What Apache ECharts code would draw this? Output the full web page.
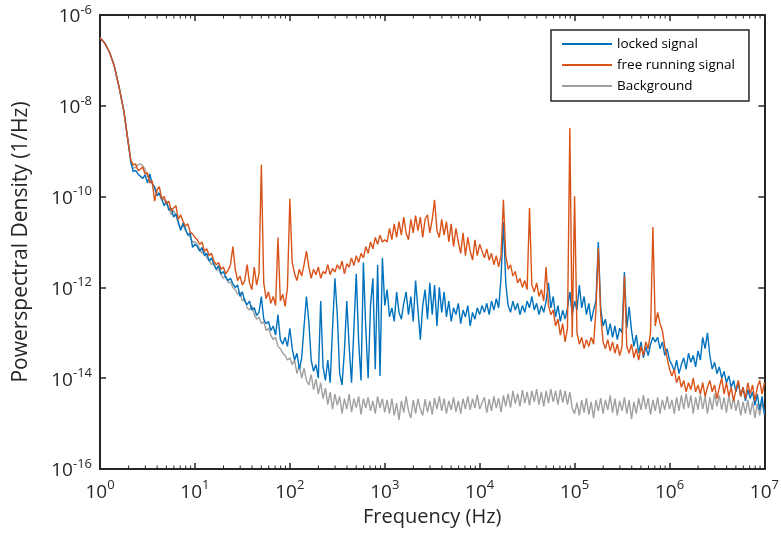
<!DOCTYPE html>
<html>
<head>
<meta charset="utf-8">
<script src="https://cdn.jsdelivr.net/npm/echarts@6/dist/echarts.min.js"></script>
<style>
  html, body { margin: 0; padding: 0; background: #ffffff; }
  #chart { width: 782px; height: 536px; }
</style>
</head>
<body>
<div id="chart"></div>
<script>
// Spectrum sampling grid: log10 of frequency in Hz
const freqExp = [
  0, 0.05, 0.1, 0.15, 0.2, 0.25,
  0.3, 0.325, 0.35, 0.375, 0.4, 0.425, 0.45, 0.475, 0.5, 0.525, 0.55, 0.575, 0.6, 0.625, 0.65, 0.675, 0.7, 0.725, 0.75, 0.775, 0.8, 0.825, 0.85, 0.875, 0.9, 0.925, 0.95, 0.975, 1,
  1.025, 1.05, 1.075, 1.1, 1.125, 1.15, 1.175, 1.2, 1.225, 1.25, 1.275, 1.3, 1.325, 1.35, 1.375, 1.4, 1.425, 1.45, 1.475, 1.5, 1.525, 1.55, 1.575, 1.6, 1.625, 1.65, 1.675, 1.7, 1.725, 1.75, 1.775, 1.8, 1.825, 1.85, 1.875, 1.9, 1.925, 1.95, 1.975, 2,
  2.025, 2.05, 2.075, 2.1, 2.125, 2.15, 2.175, 2.2, 2.225, 2.25, 2.275, 2.3, 2.325, 2.35, 2.375, 2.4, 2.425, 2.45, 2.475, 2.5, 2.525, 2.55, 2.575, 2.6, 2.625, 2.65, 2.675, 2.7, 2.725, 2.75, 2.775, 2.8, 2.825, 2.85, 2.875, 2.9, 2.925, 2.95, 2.975, 3,
  3.025, 3.05, 3.075, 3.1, 3.125, 3.15, 3.175, 3.2, 3.225, 3.25, 3.275, 3.3, 3.325, 3.35, 3.375, 3.4, 3.425, 3.45, 3.475, 3.5, 3.525, 3.55, 3.575, 3.6, 3.625, 3.65, 3.675, 3.7, 3.725, 3.75, 3.775, 3.8, 3.825, 3.85, 3.875, 3.9, 3.925, 3.95, 3.975, 4,
  4.025, 4.05, 4.075, 4.1, 4.125, 4.15, 4.175, 4.2, 4.225, 4.25, 4.275, 4.3, 4.325, 4.35, 4.375, 4.4, 4.425, 4.45, 4.475, 4.5, 4.525, 4.55, 4.575, 4.6, 4.625, 4.65, 4.675, 4.7, 4.725, 4.75, 4.775, 4.8, 4.825, 4.85, 4.875, 4.9, 4.925, 4.95, 4.975, 5,
  5.025, 5.05, 5.075, 5.1, 5.125, 5.15, 5.175, 5.2, 5.225, 5.25, 5.275, 5.3, 5.325, 5.35, 5.375, 5.4, 5.425, 5.45, 5.475, 5.5, 5.525, 5.55, 5.575, 5.6, 5.625, 5.65, 5.675, 5.7, 5.725, 5.75, 5.775, 5.8, 5.825, 5.85, 5.875, 5.9, 5.925, 5.95, 5.975, 6,
  6.025, 6.05, 6.075, 6.1, 6.125, 6.15, 6.175, 6.2, 6.225, 6.25, 6.275, 6.3, 6.325, 6.35, 6.375, 6.4, 6.425, 6.45, 6.475, 6.5, 6.525, 6.55, 6.575, 6.6, 6.625, 6.65, 6.675, 6.7, 6.725, 6.75, 6.775, 6.8, 6.825, 6.85, 6.875, 6.9, 6.925, 6.95, 6.975, 7
];

// log10 of the power spectral density (1/Hz), one value per grid point
const lockedExp = [
  -6.5, -6.62, -6.82, -7.12, -7.58, -8.1,
  -8.85, -9.25, -9.45, -9.42, -9.5, -9.55, -9.6, -9.52, -9.7, -9.5, -9.72, -9.8, -9.98, -9.92, -10.05, -10.2, -10.1, -10.3, -10.25, -10.45, -10.38, -10.55, -10.75, -10.58, -10.7, -10.85, -10.8, -11.12, -11.05,
  -11.1, -11.2, -11.12, -11.3, -11.25, -11.42, -11.35, -11.5, -11.6, -11.52, -11.7, -11.65, -11.78, -11.85, -11.8, -11.92, -12.0, -11.95, -12.2, -12.1, -12.3, -12.38, -12.3, -12.5, -12.45, -12.62, -12.55, -12.2, -12.7, -12.8, -12.75, -12.95, -12.85, -13.05, -12.6, -13.15, -13.25, -13.1, -13.3, -12.9,
  -13.35, -13.6, -13.45, -13.8, -13.55, -12.85, -12.2, -12.75, -13.6, -13.85, -13.7, -14.0, -12.3, -13.75, -14.05, -13.6, -14.1, -12.9, -11.8, -12.6, -13.9, -14.15, -13.4, -12.3, -13.3, -14.1, -12.9, -11.7, -13.2, -14.05, -11.45, -12.9, -14.0, -12.4, -11.8, -13.8, -11.5, -13.95, -11.35, -12.4,
  -12.05, -12.65, -12.45, -12.75, -12.1, -12.55, -12.7, -12.35, -12.1, -12.6, -12.2, -12.75, -11.85, -12.5, -13.15, -12.4, -12.05, -12.7, -11.9, -12.6, -11.95, -12.85, -12.0, -12.55, -12.1, -12.65, -12.3, -12.75, -12.45, -12.6, -12.35, -12.8, -12.5, -12.65, -12.4, -12.85, -12.55, -12.7, -12.45, -12.6,
  -12.4, -12.55, -12.35, -12.6, -12.3, -12.5, -12.25, -12.45, -11.8, -10.56, -11.9, -12.4, -12.55, -12.3, -12.5, -12.35, -12.6, -12.4, -12.55, -12.3, -12.45, -12.2, -12.5, -12.35, -12.6, -12.4, -12.55, -12.3, -11.9, -12.45, -12.2, -12.65, -12.4, -12.75, -12.5, -12.7, -12.45, -12.1, -12.6, -12.3,
  -12.5, -11.95, -12.45, -12.2, -12.6, -12.35, -12.75, -12.5, -12.3, -11.0, -12.45, -12.85, -12.7, -13.05, -12.8, -13.1, -12.85, -13.15, -12.9, -13.0, -11.66, -12.9, -12.43, -12.95, -13.3, -13.05, -13.45, -13.2, -13.55, -13.3, -13.5, -13.25, -13.1, -13.2, -13.1, -13.35, -13.2, -13.5, -13.35, -13.6,
  -13.7, -13.85, -13.6, -13.9, -13.7, -13.55, -13.8, -13.45, -13.65, -13.5, -13.75, -13.4, -13.6, -13.1, -13.35, -13.0, -13.5, -13.8, -13.65, -13.9, -13.75, -14.0, -13.85, -14.1, -13.95, -14.2, -14.05, -14.3, -14.1, -14.4, -14.2, -14.5, -14.25, -14.45, -14.3, -14.6, -14.35, -14.7, -14.4, -14.8
];

const freeExp = [
  -6.5, -6.62, -6.82, -7.12, -7.58, -8.1,
  -8.85, -9.2, -9.3, -9.28, -9.42, -9.4, -9.35, -9.5, -9.48, -9.7, -9.65, -10.1, -9.85, -9.78, -10.05, -10.0, -10.15, -10.1, -10.32, -10.25, -10.2, -10.5, -10.4, -10.55, -10.65, -10.6, -10.78, -10.82, -10.9,
  -10.95, -11.05, -11.0, -11.2, -11.15, -11.3, -11.25, -11.42, -11.5, -11.45, -11.6, -11.55, -11.7, -11.62, -11.5, -11.1, -11.6, -11.85, -11.75, -11.95, -11.85, -11.5, -11.9, -12.05, -11.55, -11.95, -11.7, -9.3, -11.9, -12.25, -12.1, -12.35, -12.2, -12.4, -10.9, -12.3, -12.15, -12.42, -12.0, -10.05,
  -11.45, -11.7, -11.85, -11.6, -11.75, -11.5, -11.2, -11.55, -11.8, -11.6, -11.72, -11.55, -11.8, -11.65, -11.7, -11.5, -11.72, -11.58, -11.66, -11.5, -11.6, -11.42, -11.7, -11.48, -11.55, -11.35, -11.52, -11.3, -11.45, -11.25, -11.35, -11.1, -11.25, -11.0, -11.15, -10.9, -11.05, -10.85, -11.0, -10.95,
  -11.0, -10.7, -10.95, -10.6, -10.9, -10.55, -10.85, -10.45, -10.8, -10.95, -10.5, -10.8, -10.42, -10.75, -10.45, -10.9, -10.5, -10.4, -10.8, -10.5, -10.07, -10.75, -10.9, -10.5, -10.85, -10.55, -11.0, -10.6, -11.1, -10.7, -11.0, -11.25, -10.8, -11.3, -10.9, -11.2, -11.4, -10.95, -11.3, -11.05,
  -11.2, -11.35, -11.15, -11.4, -11.25, -11.5, -11.3, -11.55, -11.3, -10.07, -11.3, -11.6, -11.5, -11.75, -11.65, -11.9, -11.8, -12.0, -11.85, -12.05, -10.25, -11.95, -12.1, -11.9, -12.2, -12.05, -12.3, -11.55, -12.4, -12.6, -12.5, -12.85, -12.7, -13.05, -12.8, -13.2, -12.9, -8.49, -13.1, -9.99,
  -13.0, -13.25, -13.1, -13.35, -13.15, -13.3, -13.1, -13.25, -12.5, -11.13, -12.6, -13.2, -13.35, -13.15, -13.4, -13.2, -13.45, -13.25, -13.5, -13.3, -11.75, -13.3, -13.45, -13.25, -13.55, -13.35, -13.6, -13.3, -13.5, -13.2, -13.35, -13.0, -10.67, -12.85, -12.55, -12.8, -12.95, -13.3, -13.55, -13.8,
  -13.95, -13.8, -14.1, -13.95, -14.2, -14.05, -14.3, -14.1, -14.25, -14.0, -14.3, -14.15, -14.35, -14.1, -14.4, -14.2, -14.05, -14.3, -14.15, -14.45, -14.2, -14.0, -14.35, -14.1, -14.4, -14.2, -14.5, -14.25, -14.05, -14.4, -14.2, -14.45, -14.1, -14.35, -14.15, -14.5, -14.2, -14.05, -14.35, -14.1
];

const backgroundExp = [
  -6.5, -6.62, -6.82, -7.12, -7.58, -8.1,
  -8.85, -9.22, -9.38, -9.35, -9.3, -9.28, -9.32, -9.4, -9.55, -9.62, -9.7, -9.78, -9.9, -9.95, -10.08, -10.05, -10.18, -10.22, -10.4, -10.3, -10.42, -10.6, -10.7, -10.62, -10.75, -10.82, -10.9, -11.0, -11.0,
  -11.05, -11.15, -11.25, -11.2, -11.35, -11.4, -11.5, -11.45, -11.62, -11.6, -11.72, -11.8, -11.75, -11.9, -11.88, -12.0, -12.05, -12.15, -12.1, -12.3, -12.25, -12.45, -12.5, -12.4, -12.6, -12.7, -12.65, -12.8, -12.75, -12.95, -12.9, -13.05, -13.15, -13.1, -13.3, -13.35, -13.45, -13.5, -13.6, -13.55,
  -13.7, -13.6, -13.9, -13.72, -14.0, -13.78, -14.05, -14.15, -13.92, -14.25, -14.02, -14.35, -14.1, -14.45, -14.22, -14.58, -14.3, -14.68, -14.35, -14.6, -14.4, -14.78, -14.45, -14.68, -14.35, -14.75, -14.45, -14.65, -14.4, -14.8, -14.45, -14.66, -14.42, -14.72, -14.5, -14.78, -14.4, -14.66, -14.45, -14.75,
  -14.48, -14.78, -14.45, -14.82, -14.55, -14.92, -14.5, -14.76, -14.4, -14.72, -14.88, -14.48, -14.78, -14.45, -14.68, -14.82, -14.46, -14.75, -14.5, -14.8, -14.44, -14.68, -14.4, -14.72, -14.45, -14.78, -14.5, -14.7, -14.42, -14.74, -14.5, -14.78, -14.45, -14.68, -14.4, -14.7, -14.45, -14.66, -14.36, -14.68,
  -14.54, -14.42, -14.76, -14.46, -14.72, -14.4, -14.66, -14.44, -14.75, -14.38, -14.62, -14.34, -14.65, -14.28, -14.56, -14.34, -14.62, -14.26, -14.55, -14.3, -14.6, -14.28, -14.52, -14.24, -14.58, -14.3, -14.62, -14.28, -14.55, -14.24, -14.52, -14.28, -14.58, -14.25, -14.54, -14.28, -14.58, -14.3, -14.66, -14.78,
  -14.54, -14.82, -14.48, -14.76, -14.44, -14.8, -14.52, -14.88, -14.48, -14.72, -14.44, -14.78, -14.48, -14.7, -14.38, -14.76, -14.45, -14.82, -14.5, -14.72, -14.42, -14.78, -14.48, -14.9, -14.52, -14.78, -14.44, -14.7, -14.38, -14.68, -14.44, -14.8, -14.48, -14.72, -14.42, -14.78, -14.48, -14.7, -14.4, -14.68,
  -14.48, -14.78, -14.42, -14.72, -14.38, -14.68, -14.34, -14.66, -14.38, -14.78, -14.42, -14.7, -14.36, -14.68, -14.4, -14.78, -14.42, -14.7, -14.34, -14.62, -14.38, -14.7, -14.42, -14.76, -14.38, -14.68, -14.42, -14.72, -14.48, -14.82, -14.52, -14.78, -14.48, -14.8, -14.52, -14.88, -14.56, -14.82, -14.52, -14.78
];

const seriesNames = ['locked signal', 'free running signal', 'Background'];
const seriesColors = ['#0072BD', '#D95319', '#A0A0A0'];
const minorMultipliers = [2, 3, 4, 5, 6, 7, 8, 9];
const minorDecades = [0, 1, 2, 3, 4, 5, 6];

const FONT = '"Open Sans", "Noto Sans", sans-serif';
const INK = '#262626';

const toPoints = exps => freqExp.map((f, i) => [Math.pow(10, f), Math.pow(10, exps[i])]);

// minor tick positions (2..9 within each decade) for the log frequency axis
const minorTickFreqs = [];
minorDecades.forEach(d => minorMultipliers.forEach(m => minorTickFreqs.push([m * Math.pow(10, d), 1e-11])));

// "10" with the decade exponent raised as a superscript
const powerLabel = v => '{b|10}{s|' + Math.round(Math.log10(v)) + '}';
const labelRich = {
  b: { fontSize: 19, fontFamily: FONT, color: INK, lineHeight: 23, verticalAlign: 'bottom' },
  s: { fontSize: 13, fontFamily: FONT, color: INK, lineHeight: 13, verticalAlign: 'top' }
};

const axisLineStyle = { show: true, lineStyle: { color: INK, width: 2 } };
const majorTick = { show: true, inside: true, length: 6, lineStyle: { color: INK, width: 1.5 } };

const chart = echarts.init(document.getElementById('chart'), null, { renderer: 'canvas' });

const lineSeries = [
  { name: seriesNames[2], exps: backgroundExp, color: seriesColors[2], z: 2 },
  { name: seriesNames[0], exps: lockedExp, color: seriesColors[0], z: 3 },
  { name: seriesNames[1], exps: freeExp, color: seriesColors[1], z: 4 }
].map(s => ({
  name: s.name,
  type: 'line',
  data: toPoints(s.exps),
  showSymbol: false,
  symbol: 'none',
  z: s.z,
  lineStyle: { color: s.color, width: 1.4 },
  itemStyle: { color: s.color },
  animation: false
}));

chart.setOption({
  animation: false,
  backgroundColor: '#ffffff',
  grid: { left: 100, right: 14, top: 15, bottom: 67, containLabel: false },
  legend: {
    data: seriesNames,
    orient: 'vertical',
    left: 551,
    top: 30,
    itemWidth: 50,
    itemHeight: 14,
    itemGap: 7,
    itemStyle: { opacity: 0 },
    padding: [7, 14, 8, 10],
    backgroundColor: '#ffffff',
    borderColor: INK,
    borderWidth: 1.5,
    textStyle: { fontFamily: FONT, fontSize: 13.5, color: '#000000' }
  },
  xAxis: [
    {
      type: 'log', logBase: 10, min: 1, max: 1e7,
      name: 'Frequency (Hz)', nameLocation: 'middle', nameGap: 38,
      nameTextStyle: { fontFamily: FONT, fontSize: 20, color: INK },
      axisLine: axisLineStyle, axisTick: majorTick,
      splitLine: { show: false }, minorTick: { show: false },
      axisLabel: { formatter: powerLabel, rich: labelRich, margin: 10 }
    },
    {
      type: 'log', logBase: 10, min: 1, max: 1e7, position: 'top',
      axisLine: axisLineStyle, axisTick: majorTick,
      splitLine: { show: false }, axisLabel: { show: false }
    }
  ],
  yAxis: [
    {
      type: 'log', logBase: 10, min: 1e-16, max: 1e-6, interval: 2,
      name: 'Powerspectral Density (1/Hz)', nameLocation: 'middle', nameGap: 68,
      nameTextStyle: { fontFamily: FONT, fontSize: 21, color: INK },
      axisLine: axisLineStyle, axisTick: majorTick,
      splitLine: { show: false },
      axisLabel: { formatter: powerLabel, rich: labelRich, margin: 8 }
    },
    {
      type: 'log', logBase: 10, min: 1e-16, max: 1e-6, interval: 2, position: 'right',
      axisLine: axisLineStyle, axisTick: majorTick,
      splitLine: { show: false }, axisLabel: { show: false }
    }
  ],
  series: lineSeries.concat([{
    name: 'minor ticks',
    type: 'custom',
    coordinateSystem: 'cartesian2d',
    xAxisIndex: 0, yAxisIndex: 0,
    silent: true,
    z: 10,
    clip: false,
    data: minorTickFreqs,
    renderItem: (params, api) => {
      const cs = params.coordSys;
      const x = api.coord([api.value(0), api.value(1)])[0];
      const st = { stroke: INK, lineWidth: 1 };
      return {
        type: 'group',
        children: [
          { type: 'line', shape: { x1: x, y1: cs.y + cs.height, x2: x, y2: cs.y + cs.height - 3.5 }, style: st },
          { type: 'line', shape: { x1: x, y1: cs.y, x2: x, y2: cs.y + 3.5 }, style: st }
        ]
      };
    }
  }])
});
</script>
</body>
</html>
